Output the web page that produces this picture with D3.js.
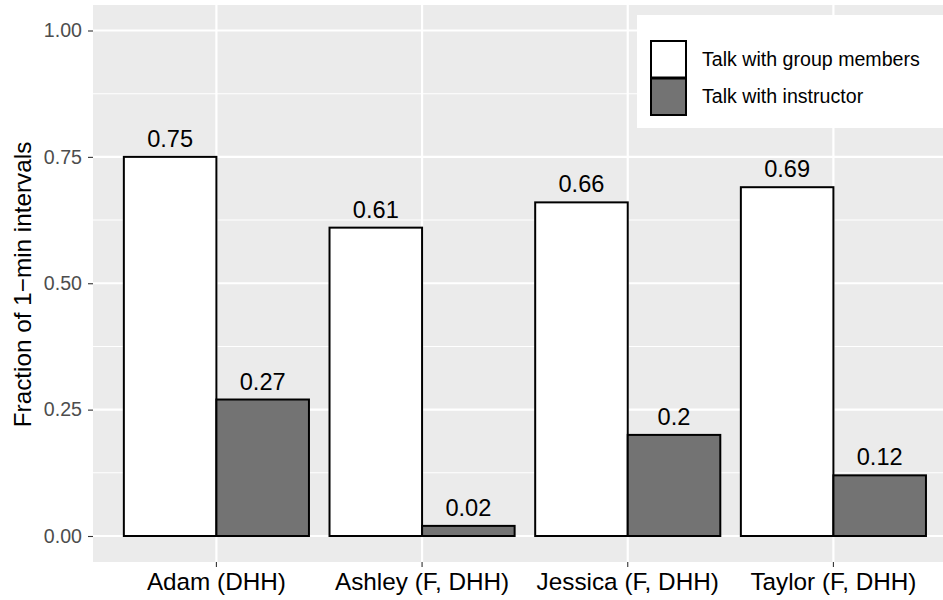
<!DOCTYPE html>
<html><head><meta charset="utf-8">
<script src="https://cdn.jsdelivr.net/npm/d3@7"></script>
<style>body{margin:0;background:#fff}svg{display:block}text{font-family:Arial,"Liberation Sans",sans-serif}</style>
</head><body>
<svg id="c" width="943" height="600"></svg>
<script>
const categories = ["Adam (DHH)", "Ashley (F, DHH)", "Jessica (F, DHH)", "Taylor (F, DHH)"];
const seriesNames = ["Talk with group members", "Talk with instructor"];
const groupValues = [0.75, 0.61, 0.66, 0.69];
const instructorValues = [0.27, 0.02, 0.2, 0.12];
const labelsGroup = ["0.75", "0.61", "0.66", "0.69"];
const labelsInstr = ["0.27", "0.02", "0.2", "0.12"];
const yTicks = [0, 0.25, 0.5, 0.75, 1.0];
const yMinor = [0.125, 0.375, 0.625, 0.875];
const colors = ["#FFFFFF", "#737373"];

const FONT = "Arial,'Liberation Sans',sans-serif";
const svg = d3.select("#c");
const pL = 93, pT = 5, pB = 562;
const step = 205.67;
const pR = pL + step * 4.2;
const x = d3.scaleBand().domain(categories).range([pL + 0.1*step, pR - 0.1*step]).padding(0);
const y = d3.scaleLinear().domain([0, 1]).range([536, 30.5]);

svg.append("rect").attr("x", pL).attr("y", pT).attr("width", pR - pL).attr("height", pB - pT).attr("fill", "#EBEBEB");
const g = svg.append("g");
yMinor.forEach(v => g.append("line").attr("x1", pL).attr("x2", pR).attr("y1", y(v)).attr("y2", y(v)).attr("stroke", "#fff").attr("stroke-width", 1.1));
yTicks.forEach(v => g.append("line").attr("x1", pL).attr("x2", pR).attr("y1", y(v)).attr("y2", y(v)).attr("stroke", "#fff").attr("stroke-width", 2.2));
categories.forEach(c => g.append("line").attr("x1", x(c)+x.bandwidth()/2).attr("x2", x(c)+x.bandwidth()/2).attr("y1", pT).attr("y2", pB).attr("stroke", "#fff").attr("stroke-width", 2.2));

const bw = x.bandwidth() * 0.45;
const rows = categories.map((c, i) => ({c, vals: [groupValues[i], instructorValues[i]], labs: [labelsGroup[i], labelsInstr[i]]}));
rows.forEach(r => {
  const cx = x(r.c) + x.bandwidth()/2;
  r.vals.forEach((v, j) => {
    const x0 = cx - bw + j*bw;
    svg.append("rect").attr("x", x0).attr("y", y(v)).attr("width", bw).attr("height", y(0) - y(v))
      .attr("fill", colors[j]).attr("stroke", "#000").attr("stroke-width", 2);
    svg.append("text").attr("x", x0 + bw/2).attr("y", y(v) - 10).attr("text-anchor", "middle")
      .attr("font-size", 23.6).attr("fill", "#000").text(r.labs[j]);
  });
});

// Y axis
const ya = svg.append("g").attr("transform", `translate(${pL},0)`)
  .call(d3.axisLeft(y).tickValues(yTicks).tickFormat(d3.format(".2f")).tickSize(5).tickPadding(6));
ya.attr("font-size", null).attr("font-family", null);
ya.select(".domain").remove();
ya.selectAll("line").attr("stroke", "#333").attr("stroke-width", 1.1);
ya.selectAll("text").attr("font-size", 19.6).attr("fill", "#4D4D4D").attr("font-family", FONT);

// X axis
const xa = svg.append("g").attr("transform", `translate(0,${pB})`)
  .call(d3.axisBottom(x).tickSize(5).tickPadding(6));
xa.attr("font-size", null).attr("font-family", null);
xa.select(".domain").remove();
xa.selectAll("line").attr("stroke", "#333").attr("stroke-width", 1.1);
xa.selectAll("text").attr("font-size", 24.3).attr("fill", "#000").attr("dy", "0.71em").attr("font-family", FONT);

svg.append("text").attr("transform", `translate(31,${(pT+pB)/2 + 1}) rotate(-90)`).attr("text-anchor", "middle")
  .attr("font-size", 24.3).attr("fill", "#000").text("Fraction of 1\u2212min intervals");

// Legend
const lg = svg.append("g");
lg.append("rect").attr("x", 637).attr("y", 15).attr("width", 330).attr("height", 113).attr("fill", "#fff");
seriesNames.forEach((s, i) => {
  const ky = 41 + i*37.5;
  lg.append("rect").attr("x", 651).attr("y", ky).attr("width", 35).attr("height", 36.5).attr("fill", colors[i]).attr("stroke", "#000").attr("stroke-width", 2);
  lg.append("text").attr("x", 702).attr("y", ky + 18).attr("dy", "0.35em").attr("font-size", 19.6).attr("fill", "#000").text(s);
});
</script>
</body></html>
